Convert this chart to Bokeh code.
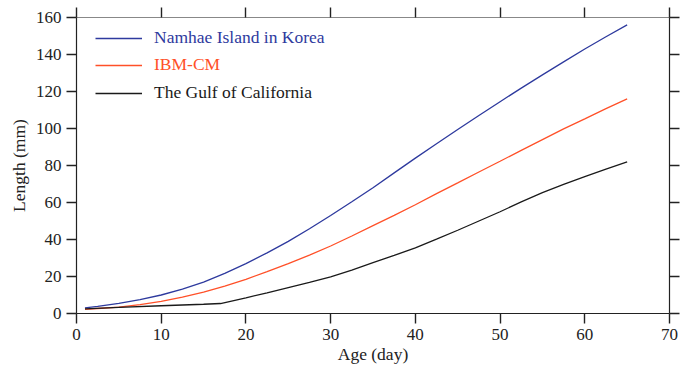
from bokeh.plotting import figure
from bokeh.models import Range1d, LinearAxis, FixedTicker, Legend, LegendItem
from bokeh.embed import file_html
from bokeh.resources import INLINE

# ---- data ----
age_namhae = [1, 2.5, 5, 7.5, 10, 12.5, 15, 17.5, 20, 22.5, 25, 27.5, 30, 32.5, 35, 37.5,
              40, 42.5, 45, 47.5, 50, 52.5, 55, 57.5, 60, 62.5, 65]
len_namhae = [3.0, 3.8, 5.5, 7.5, 10.0, 13.2, 17.0, 21.7, 27.0, 32.8, 39.0, 45.8, 53.0, 60.4, 68.0, 76.0,
              84.0, 91.8, 99.5, 107.0, 114.5, 121.8, 129.0, 136.0, 143.0, 149.6, 156.0]

age_ibm = [1, 2.5, 5, 7.5, 10, 12.5, 15, 17.5, 20, 22.5, 25, 27.5, 30, 32.5, 35, 37.5,
           40, 42.5, 45, 47.5, 50, 52.5, 55, 57.5, 60, 62.5, 65]
len_ibm = [2.2, 2.7, 3.5, 4.8, 6.5, 8.8, 11.5, 14.8, 18.5, 22.6, 27.0, 31.6, 36.5, 41.9, 47.5, 53.0,
           58.8, 64.8, 70.6, 76.5, 82.3, 88.2, 94.0, 99.8, 105.2, 110.7, 116.0]

age_gulf = [1, 5, 10, 15, 17, 20, 22.5, 25, 27.5, 30, 32.5, 35, 37.5, 40, 42.5, 45, 47.5,
            50, 52.5, 55, 57.5, 60, 62.5, 65]
len_gulf = [2.5, 3.3, 4.2, 5.0, 5.4, 8.5, 11.2, 14.0, 16.8, 19.8, 23.5, 27.5, 31.4, 35.5, 40.2, 45.0, 50.0,
            55.0, 60.3, 65.3, 69.8, 74.0, 78.1, 82.0]

series_names = ["Namhae Island in Korea", "IBM-CM", "The Gulf of California"]
series_colors = ["#2e3a9e", "#ff5028", "#1a1a1a"]

x_ticks = [0, 10, 20, 30, 40, 50, 60, 70]
y_ticks = [0, 20, 40, 60, 80, 100, 120, 140, 160]

FONT = "Liberation Serif"

p = figure(width=686, height=366, output_backend="svg", toolbar_location=None,
           x_range=Range1d(0, 70), y_range=Range1d(0, 160),
           min_border_left=76, min_border_right=17, min_border_top=17, min_border_bottom=52)
p.grid.visible = False
p.outline_line_color = None
p.background_fill_color = "white"
p.border_fill_color = "white"

def style_axis(ax, show_labels=True):
    ax.axis_line_color = "#222222"
    ax.axis_line_width = 1.2
    ax.major_tick_line_color = "#222222"
    ax.major_tick_line_width = 1.4
    ax.major_tick_out = 10
    ax.major_tick_in = 0
    ax.minor_tick_line_color = None
    ax.major_label_text_font = FONT
    ax.major_label_text_font_size = "17px" if show_labels else "0px"
    ax.major_label_text_color = "#222222"
    ax.major_label_standoff = 5
    ax.axis_label_text_font = FONT
    ax.axis_label_text_font_size = "17.5px"
    ax.axis_label_text_font_style = "normal"
    ax.axis_label_text_color = "#222222"

p.xaxis.ticker = FixedTicker(ticks=x_ticks)
p.yaxis.ticker = FixedTicker(ticks=y_ticks)
style_axis(p.xaxis[0])
style_axis(p.yaxis[0])
p.xaxis.axis_label = "Age (day)"
p.yaxis.axis_label = "Length (mm)"
p.xaxis.axis_label_standoff = 1
p.yaxis.axis_label_standoff = 4

top = LinearAxis(ticker=FixedTicker(ticks=x_ticks))
style_axis(top, show_labels=False)
top.axis_line_color = "#888888"
top.major_label_standoff = 0
right = LinearAxis(ticker=FixedTicker(ticks=y_ticks))
style_axis(right, show_labels=False)
right.major_label_standoff = 0
p.add_layout(top, "above")
p.add_layout(right, "right")

r1 = p.line(age_namhae, len_namhae, line_color=series_colors[0], line_width=1.3)
r2 = p.line(age_ibm, len_ibm, line_color=series_colors[1], line_width=1.3)
r3 = p.line(age_gulf, len_gulf, line_color=series_colors[2], line_width=1.3)

renderers = [r1, r2, r3]
legend_y = [265, 238, 210]
for name, color, r, ly in zip(series_names, series_colors, renderers, legend_y):
    lg = Legend(items=[LegendItem(label=name, renderers=[r])], location=(19, ly),
                padding=0, margin=0, spacing=0, border_line_color=None,
                background_fill_alpha=0, glyph_width=47, glyph_height=20,
                label_height=20, label_standoff=12,
                label_text_font=FONT, label_text_font_size="17.5px",
                label_text_color=color)
    p.add_layout(lg, "center")

open("out.html", "w").write(file_html(p, INLINE))
